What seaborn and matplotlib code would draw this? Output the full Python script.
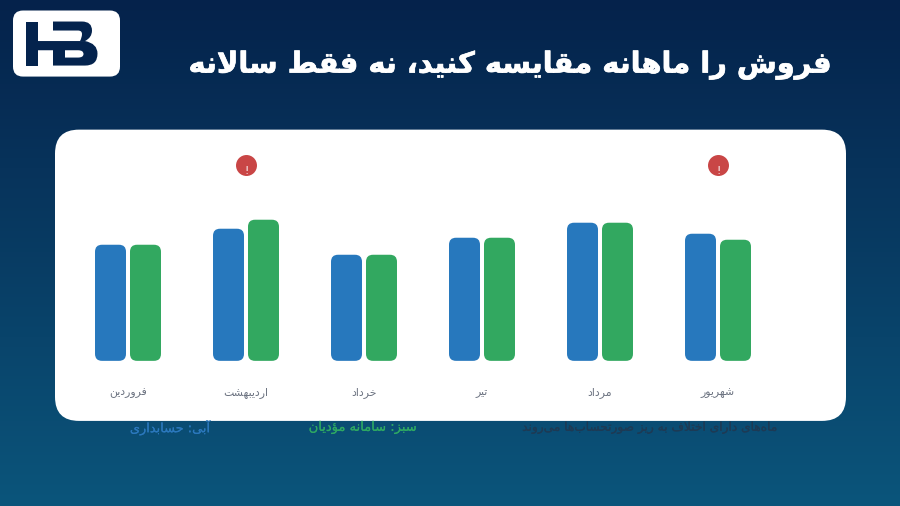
import numpy as np
import pandas as pd
import matplotlib
matplotlib.use("Agg")
import matplotlib.pyplot as plt
import matplotlib.patheffects as pe
from matplotlib.patches import FancyBboxPatch, PathPatch, Rectangle
from matplotlib.path import Path
import seaborn as sns

months = ["فروردین", "اردیبهشت", "خرداد", "تیر", "مرداد", "شهریور"]
accounting = [116, 132, 106, 123, 138, 127]
tax_system = [116, 141, 106, 123, 138, 121]
series_names = ["حسابداری", "سامانه مؤدیان"]
flagged_months = ["اردیبهشت", "شهریور"]
title_text = "فروش را ماهانه مقایسه کنید، نه فقط سالانه"
legend_blue = "آبی: حسابداری"
legend_green = "سبز: سامانه مؤدیان"
note_text = "ماه\u200cهای دارای اختلاف به ریز صورتحساب\u200cها می\u200cروند"

FORMS = {
    "ا": "\uFE8D\uFE8E\0\0", "آ": "\uFE81\uFE82\0\0", "ؤ": "\uFE85\uFE86\0\0",
    "د": "\uFEA9\uFEAA\0\0", "ذ": "\uFEAB\uFEAC\0\0", "ر": "\uFEAD\uFEAE\0\0",
    "ز": "\uFEAF\uFEB0\0\0", "و": "\uFEED\uFEEE\0\0",
    "ب": "\uFE8F\uFE90\uFE91\uFE92", "ت": "\uFE95\uFE96\uFE97\uFE98",
    "ح": "\uFEA1\uFEA2\uFEA3\uFEA4", "خ": "\uFEA5\uFEA6\uFEA7\uFEA8",
    "س": "\uFEB1\uFEB2\uFEB3\uFEB4", "ش": "\uFEB5\uFEB6\uFEB7\uFEB8",
    "ص": "\uFEB9\uFEBA\uFEBB\uFEBC", "ط": "\uFEC1\uFEC2\uFEC3\uFEC4",
    "ف": "\uFED1\uFED2\uFED3\uFED4", "ق": "\uFED5\uFED6\uFED7\uFED8",
    "ک": "\uFB8E\uFB8F\uFB90\uFB91", "ل": "\uFEDD\uFEDE\uFEDF\uFEE0",
    "م": "\uFEE1\uFEE2\uFEE3\uFEE4", "ن": "\uFEE5\uFEE6\uFEE7\uFEE8",
    "ه": "\uFEE9\uFEEA\uFEEB\uFEEC", "ی": "\uFBFC\uFBFD\uFBFE\uFBFF",
}


def shape(text):
    """Join Persian letters into presentation forms, in visual order."""
    text = text.replace("لا", "\uFEFB").replace("لآ", "\uFEF5")
    out = []
    n = len(text)
    for i, ch in enumerate(text):
        prev = text[i - 1] if i else ""
        nxt = text[i + 1] if i + 1 < n else ""
        joins_prev = prev in FORMS and FORMS[prev][2] != "\0"
        if ch == "\u200c":
            continue
        if ch == "\uFEFB":
            out.append("\uFEFC" if joins_prev else "\uFEFB")
            continue
        if ch == "\uFEF5":
            out.append("\uFEF6" if joins_prev else "\uFEF5")
            continue
        if ch not in FORMS:
            out.append(ch)
            continue
        f = FORMS[ch]
        joins_next = f[2] != "\0" and nxt != "" and (nxt in FORMS or nxt in "\uFEFB\uFEF5")
        if joins_prev and joins_next:
            out.append(f[3])
        elif joins_prev:
            out.append(f[1])
        elif joins_next:
            out.append(f[2])
        else:
            out.append(f[0])
    return "".join(reversed(out))


W, H = 900, 506
sns.set_theme(style="white")
plt.rcParams["font.family"] = ["DejaVu Sans"]
fig = plt.figure(figsize=(9.0, 5.065), dpi=100)

bg = fig.add_axes([0, 0, 1, 1], zorder=0)
top = np.array([0x05, 0x22, 0x4b]) / 255
bot = np.array([0x0b, 0x55, 0x7b]) / 255
t = np.linspace(0, 1, 256)[:, None, None]
grad = top[None, None, :] * (1 - t) + bot[None, None, :] * t
bg.imshow(grad, extent=[0, W, H, 0], aspect="auto", zorder=0)
bg.set_xlim(0, W)
bg.set_ylim(H, 0)
bg.axis("off")

bg.add_patch(FancyBboxPatch((55, 130), 791, 291, boxstyle="round,pad=0,rounding_size=24",
                            fc="white", ec="none", zorder=1))
bg.add_patch(FancyBboxPatch((13, 11), 107, 66, boxstyle="round,pad=0,rounding_size=10",
                            fc="white", ec="none", zorder=1))
NAVY = "#04234d"
M, L, C, Z = Path.MOVETO, Path.LINETO, Path.CURVE3, Path.CLOSEPOLY
bg.add_patch(Rectangle((25.7, 22), 12, 44, fc=NAVY, ec="none", zorder=2))
lower = [((37, 41.5), M), ((85, 41.5), L), ((97.5, 44), C), ((97.5, 54), C), ((97.5, 66), C),
         ((85, 66), C), ((53, 66), L), ((53, 50.7), L), ((65, 50.7), L), ((65, 58), L),
         ((78, 58), L), ((83.5, 58), C), ((83.5, 54.5), C), ((83.5, 50.7), C), ((78, 50.7), C),
         ((37, 50.7), L), ((37, 41.5), Z)]
upper = [((53, 22), M), ((82, 22), L), ((92, 22), C), ((92, 31), C), ((92, 38), C), ((85, 41.5), C),
         ((80, 41.5), L), ((82, 38), C), ((82, 34.5), C), ((82, 31), C), ((78, 31), C),
         ((53, 31), L), ((53, 22), Z)]
for shape_pts in (lower, upper):
    verts, codes = zip(*shape_pts)
    bg.add_patch(PathPatch(Path(verts, codes), fc=NAVY, ec="none", zorder=2))

# axes: baseline at y=361, categories spaced 118 px from x=128
left, right, ytop, ybase = 69, 777, 150, 361
ax = fig.add_axes([left / W, 1 - ybase / H, (right - left) / W, (ybase - ytop) / H], zorder=2)
ax.patch.set_alpha(0)

df = pd.DataFrame({
    "month": months * 2,
    "value": accounting + tax_system,
    "series": [series_names[0]] * len(months) + [series_names[1]] * len(months),
})
BLUE, GREEN = "#2778bd", "#32a860"
sns.barplot(data=df, x="month", y="value", hue="series", order=months, hue_order=series_names,
            palette=[BLUE, GREEN], width=0.593, gap=0.114, legend=False, ax=ax, saturation=1)
ax.set_xlim(-0.5, len(months) - 0.5)
ax.set_ylim(0, ybase - ytop)

r_px = 7
rx = r_px / 118
for p in list(ax.patches):
    x, y, w, h = p.get_x(), p.get_y(), p.get_width(), p.get_height()
    c = p.get_facecolor()
    p.remove()
    if h > 0:
        ax.add_patch(FancyBboxPatch((x, y), w, h, boxstyle=f"round,pad=0,rounding_size={rx}",
                                    mutation_aspect=r_px / rx, fc=c, ec="none"))

flag_x = [months.index(m) for m in flagged_months]
flag_level = 195.5
ax.scatter(flag_x, [flag_level] * len(flag_x), s=228, color="#c94646", linewidths=0, zorder=4, clip_on=False)
for fx in flag_x:
    ax.text(fx, flag_level - 5.8, "!", color="white", fontsize=7.5, ha="center", va="center", zorder=5)

ax.set_xticks(range(len(months)))
ax.set_xticklabels([shape(m) for m in months], fontsize=7.8, color="#6b7280", va="baseline")
ax.tick_params(axis="x", length=0, pad=24.5)
ax.set_yticks([])
ax.set_xlabel("")
ax.set_ylabel("")
sns.despine(ax=ax, left=True, bottom=True)


def put(x, y, s, **kw):
    return fig.text(x / W, 1 - y / H, s, ha="center", va="center", zorder=6, **kw)


title = put(510, 65.5, shape(title_text), color="white", fontsize=20.8, fontweight="bold")
title.set_path_effects([pe.withStroke(linewidth=0.5, foreground="white")])
for x, s, col, size in [(170, legend_blue, "#2b78bd", 9.3),
                        (362.5, legend_green, "#2ea863", 9.4),
                        (650, note_text, "#1e3a54", 8.75)]:
    txt = put(x, 427.5, shape(s), color=col, fontsize=size)
    txt.set_path_effects([pe.withStroke(linewidth=0.1, foreground=col)])

fig.savefig("out.png", dpi=100)
